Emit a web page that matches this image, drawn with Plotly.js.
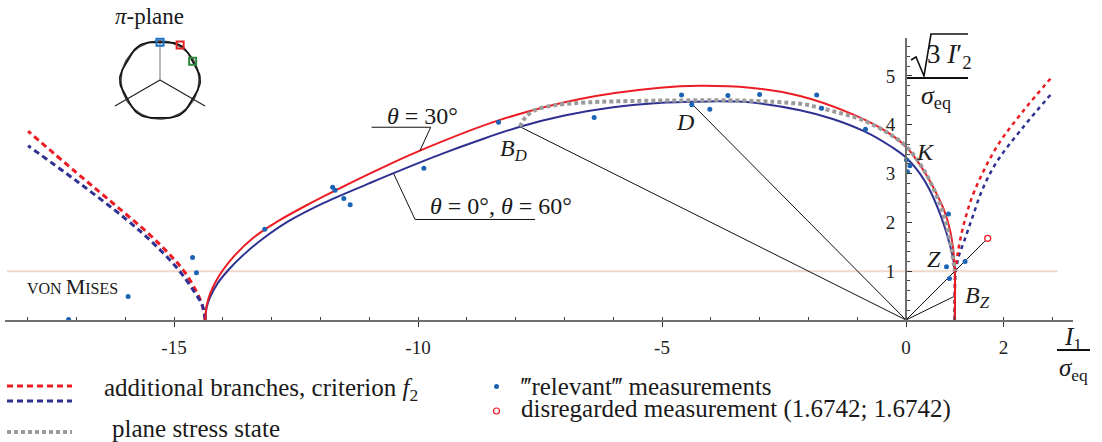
<!DOCTYPE html>
<html>
<head>
<meta charset="utf-8">
<script src="https://cdn.plot.ly/plotly-3.0.1.min.js"></script>
<style>
  html, body { margin: 0; padding: 0; background: #ffffff; }
  #chart { width: 1102px; height: 442px; }
</style>
</head>
<body>
<div id="chart"></div>
<script>
// ---- Meridian section of the yield surface (I1/σeq, sqrt(3 I2')/σeq) ----

// criterion f2, θ = 30°
const theta30X = [-14.36, -14.33, -14.26, -14.16, -14.0, -13.76, -13.38, -12.86, -12.21, -11.6, -10.86, -9.96, -8.32, -6.68, -5.04, -4.22, -3.2, -2.17, -1.15, -0.5, 0.0, 0.35, 0.59, 0.78, 0.9, 0.97, 1.0, 1.0];
const theta30Y = [0.0, 0.3, 0.54, 0.76, 1.02, 1.32, 1.68, 2.03, 2.39, 2.70, 3.06, 3.47, 4.10, 4.53, 4.76, 4.80, 4.76, 4.59, 4.24, 3.92, 3.55, 3.08, 2.66, 2.25, 1.85, 1.42, 1.0, 0.0];

// criterion f2, θ = 0° and θ = 60°
const theta0X = [-14.36, -14.33, -14.26, -14.10, -13.89, -13.56, -13.16, -12.66, -11.95, -11.0, -10.5, -9.5, -8.7, -7.91, -7.0, -6.0, -5.0, -4.43, -4.0, -3.2, -2.17, -1.5, -0.84, -0.3, 0.0, 0.3, 0.49, 0.66, 0.8, 0.92, 0.98, 1.0, 1.0];
const theta0Y = [0.0, 0.26, 0.47, 0.76, 1.02, 1.35, 1.68, 2.02, 2.39, 2.80, 3.01, 3.41, 3.70, 3.96, 4.19, 4.36, 4.45, 4.47, 4.48, 4.46, 4.30, 4.12, 3.86, 3.55, 3.33, 2.98, 2.66, 2.27, 1.88, 1.46, 1.18, 1.0, 0.0];

// additional branches of f2 (compression side)
const branchLeft30X = [-14.36, -14.42, -14.55, -14.78, -15.05, -15.49, -16.2, -17.0, -17.99];
const branchLeft30Y = [0.0, 0.3, 0.6, 0.98, 1.3, 1.74, 2.35, 3.02, 3.87];
const branchLeft0X = [-14.36, -14.42, -14.6, -14.9, -15.39, -16.0, -17.0, -17.99];
const branchLeft0Y = [0.0, 0.3, 0.6, 1.02, 1.54, 2.08, 2.85, 3.57];

// additional branches of f2 (tension side)
const branchRight30X = [1.0, 1.0, 1.01, 1.05, 1.11, 1.22, 1.41, 1.86, 2.4, 3.0];
const branchRight30Y = [0.0, 0.6, 1.0, 1.3, 1.64, 2.1, 2.66, 3.55, 4.28, 4.99];
const branchRight0X = [1.0, 1.0, 1.02, 1.08, 1.2, 1.36, 1.56, 1.86, 2.4, 3.0];
const branchRight0Y = [0.0, 0.6, 1.0, 1.3, 1.64, 2.1, 2.66, 3.24, 3.95, 4.66];

// plane stress state
const planeStressX = [-7.91, -7.8, -7.6, -7.2, -6.5, -5.5, -4.5, -3.5, -2.7, -2.1, -1.5, -0.9, -0.4, 0.0, 0.3, 0.55, 0.75, 0.87, 0.95, 1.0];
const planeStressY = [3.96, 4.15, 4.3, 4.4, 4.46, 4.49, 4.5, 4.5, 4.47, 4.42, 4.28, 4.1, 3.85, 3.56, 3.18, 2.72, 2.22, 1.78, 1.35, 1.0];

// measurements
const measuredX = [-17.16, -15.94, -14.62, -14.54, -13.14, -11.75, -11.7, -11.52, -11.39, -9.88, -8.35, -6.39, -4.6, -4.39, -4.02, -3.65, -3.0, -1.83, -1.73, -0.83, 0.01, 0.08, 0.03, 0.87, 0.83, 0.89, 1.21];
const measuredY = [0.01, 0.48, 1.28, 0.97, 1.86, 2.72, 2.66, 2.49, 2.36, 3.11, 4.05, 4.15, 4.61, 4.41, 4.32, 4.6, 4.62, 4.61, 4.34, 3.91, 3.28, 3.16, 3.04, 2.17, 1.09, 0.85, 1.2];
const disregardedX = [1.6742];
const disregardedY = [1.6742];

// characteristic points reached by load paths from the origin
const pointBD = [-7.91, 3.96];
const pointD = [-4.43, 4.47];
const pointBZ = [0.98, 0.48];

const vonMisesLevel = 1;
const vonMisesExtent = [-18.42, 3.11];

const xTickVals = [-15, -10, -5, 0, 2];
const xTickText = ['-15', '-10', '-5', '0', '2'];
const yTickVals = [1, 2, 3, 4, 5];
const yTickText = ['1', '2', '3', '4', '5'];

// ---- page geometry ----
const W = 1102, H = 442;
const UNIT = 48.8;          // px per unit, equal on both axes
const ORIGIN_PX = 906, ORIGIN_PY = 320;
const X_LEFT_PX = 5, X_RIGHT_PX = 1073;
const Y_TOP = 5.78;

const xRange = [(X_LEFT_PX - ORIGIN_PX) / UNIT, (X_RIGHT_PX - ORIGIN_PX) / UNIT];
const xDomain = [X_LEFT_PX / W, X_RIGHT_PX / W];
const yDomain = [1 - ORIGIN_PY / H, 1 - (ORIGIN_PY - Y_TOP * UNIT) / H];
const yAxisPos = ORIGIN_PX / W;

const px = v => v / W;
const py = v => 1 - v / H;

const RED = '#ec1c24';
const NAVY = '#2e3192';
const DOT = '#1b63b5';
const GRAY = '#9b9b9b';
const AXIS = '#707070';
const FONT = 'Liberation Serif, Times New Roman, serif';

const traces = [];

function curve(x, y, color, width, dash) {
  return {
    x: x, y: y, type: 'scatter', mode: 'lines', cliponaxis: false,
    line: { color: color, width: width, dash: dash || 'solid', shape: 'spline', smoothing: 1 },
    hoverinfo: 'skip', showlegend: false
  };
}
function ray(p) {
  return {
    x: [0, p[0]], y: [0, p[1]], type: 'scatter', mode: 'lines', cliponaxis: false,
    line: { color: '#111', width: 1 }, hoverinfo: 'skip', showlegend: false
  };
}

// load paths
traces.push(ray(pointBD), ray(pointD), ray(pointBZ), ray([disregardedX[0], disregardedY[0]]));

// dashed additional branches
traces.push(curve(branchLeft30X, branchLeft30Y, RED, 3, '6px,4px'));
traces.push(curve(branchLeft0X, branchLeft0Y, NAVY, 3, '6px,4px'));
traces.push(curve(branchRight0X, branchRight0Y, NAVY, 2.5, '4px,4px'));
traces.push(curve(branchRight30X, branchRight30Y, RED, 2.5, '4px,4px'));

// yield curves
traces.push(curve(theta0X, theta0Y, NAVY, 2));
traces.push(curve(theta30X, theta30Y, RED, 2));

// plane stress
traces.push(curve(planeStressX, planeStressY, GRAY, 4, '4px,3px'));

// measurements
traces.push({
  x: measuredX, y: measuredY, type: 'scatter', mode: 'markers', cliponaxis: false,
  marker: { color: DOT, size: 5 }, hoverinfo: 'skip', showlegend: false
});
traces.push({
  x: disregardedX, y: disregardedY, type: 'scatter', mode: 'markers', cliponaxis: false,
  marker: { color: '#ffffff', size: 6, line: { color: RED, width: 1.3 } },
  hoverinfo: 'skip', showlegend: false
});

// ---- π-plane sketch (deviatoric section) ----
const piRadius = 39;        // mean radius of the section, px
const piLobe = 1.3;         // deviation with the Lode angle, px
const piCircle = { x: [], y: [] }, piLobed = { x: [], y: [] };
for (let k = 0; k <= 360; k += 3) {
  const a = k * Math.PI / 180;         // angle measured from the vertical axis
  piCircle.x.push(piRadius * Math.sin(a));
  piCircle.y.push(piRadius * Math.cos(a));
  const r = piRadius + piLobe * Math.cos(6 * (a - Math.PI / 6));
  piLobed.x.push(r * Math.sin(a));
  piLobed.y.push(r * Math.cos(a));
}
function piLine(x, y, color, width) {
  return { x: x, y: y, xaxis: 'x2', yaxis: 'y2', type: 'scatter', mode: 'lines',
           line: { color: color, width: width || 1.2 }, hoverinfo: 'skip', showlegend: false };
}
traces.push(piLine([0, 0], [0, 42], '#8a8a8a'));
traces.push(piLine([0, -45], [0, -26], '#222'));
traces.push(piLine([0, 45], [0, -26], '#222'));
traces.push(piLine(piCircle.x, piCircle.y, '#444', 1.5));
traces.push(piLine(piLobed.x, piLobed.y, '#111', 1.6));
const lodeAngles = [0, 30, 60];
const lodeColors = ['#1a73c8', '#e0262b', '#2e8b3a'];
lodeAngles.forEach((deg, i) => {
  const a = deg * Math.PI / 180;
  const r = piRadius + piLobe * Math.cos(6 * (a - Math.PI / 6));
  traces.push({
    x: [r * Math.sin(a)], y: [r * Math.cos(a)], xaxis: 'x2', yaxis: 'y2',
    type: 'scatter', mode: 'markers', cliponaxis: false,
    marker: { symbol: 'square-open', size: 7, color: lodeColors[i], line: { width: 2, color: lodeColors[i] } },
    hoverinfo: 'skip', showlegend: false
  });
});

// ---- annotations ----
function label(x, y, text, size, extra) {
  return Object.assign({ x: x, y: y, xref: 'x', yref: 'y', text: text, showarrow: false,
    xanchor: 'center', yanchor: 'middle', font: { family: FONT, size: size || 24, color: '#1a1a1a' } }, extra || {});
}
function ptext(x, y, text, size, anchor) {
  return { x: px(x), y: py(y), xref: 'paper', yref: 'paper', text: text, showarrow: false,
    xanchor: anchor || 'center', yanchor: 'middle', font: { family: FONT, size: size || 23, color: '#1a1a1a' } };
}

const annotations = [
  label(0.39, 3.45, '<i>K</i>'),
  label(0.58, 1.24, '<i>Z</i>'),
  label(1.47, 0.48, '<i>B</i><sub><i>Z</i></sub>'),
  label(1.17, -0.68, '<i>A</i><sub><i>Z</i></sub>'),
  label(-13.55, -0.75, '<i>A</i><sub><i>D</i></sub>'),
  label(-8.05, 3.48, '<i>B</i><sub><i>D</i></sub>'),
  label(-4.53, 4.06, '<i>D</i>'),
  label(-9.91, 4.19, '<i>θ</i> = 30°'),
  label(-8.29, 2.34, '<i>θ</i> = 0°, <i>θ</i> = 60°'),
  label(-17.07, 0.68, '<span style="font-size:16px">VON </span>M<span style="font-size:16px">ISES</span>', 22),
  // axis titles
  ptext(950, 56, '3 <i>I</i>′<sub>2</sub>', 27),
  ptext(936, 97, '<i>σ</i><sub>eq</sub>', 26),
  ptext(1073, 338, '<i>I</i><sub>1</sub>', 25),
  ptext(1073, 369, '<i>σ</i><sub>eq</sub>', 25),
  // π-plane caption
  ptext(149, 17, '<i>π</i>-plane', 23),
  // legend texts
  ptext(102, 389, 'additional branches, criterion <i>f</i><sub>2</sub>', 25, 'left'),
  ptext(110, 428, 'plane stress state', 25, 'left'),
  ptext(519, 386, '‴relevant‴ measurements', 25, 'left'),
  ptext(519, 409, 'disregarded measurement (1.6742; 1.6742)', 25, 'left')
];

// ---- shapes: reference line, leaders, title strokes, legend keys ----
function pline(x0, y0, x1, y1, color, width, dash) {
  return { type: 'line', xref: 'paper', yref: 'paper', x0: px(x0), y0: py(y0), x1: px(x1), y1: py(y1),
           line: { color: color, width: width, dash: dash || 'solid' } };
}
function dline(x0, y0, x1, y1) {
  return { type: 'line', xref: 'x', yref: 'y', x0: x0, y0: y0, x1: x1, y1: y1,
           line: { color: '#111', width: 1 } };
}
const radical = 'M ' + [[911, 60], [916, 57], [924, 76], [931, 34], [968, 34]]
  .map(p => px(p[0]) + ',' + py(p[1])).join(' L ');

const shapes = [
  { type: 'line', xref: 'x', yref: 'y', layer: 'below',
    x0: vonMisesExtent[0], x1: vonMisesExtent[1], y0: vonMisesLevel, y1: vonMisesLevel,
    line: { color: '#f1d8cd', width: 2 } },
  // leader for θ = 30°
  dline(-10.95, 3.95, -9.74, 3.95), dline(-9.74, 3.95, -9.96, 3.47),
  // leader for θ = 0°, 60°
  dline(-10.5, 3.0, -10.06, 2.06), dline(-10.06, 2.06, -7.6, 2.06),
  // ordinate title: radical sign and fraction bar
  { type: 'path', xref: 'paper', yref: 'paper', path: radical, line: { color: '#111', width: 1.6 } },
  pline(907, 78, 968, 78, '#111', 2),
  // abscissa title fraction bar
  pline(1057, 350, 1090, 350, '#111', 2),
  // legend keys
  pline(7, 386, 72, 386, RED, 3, '6px,4px'),
  pline(7, 401, 72, 401, NAVY, 3, '6px,4px'),
  pline(7, 432, 72, 432, GRAY, 4, '4px,3px'),
  { type: 'circle', xref: 'paper', yref: 'paper', x0: px(494), x1: px(499), y0: py(384), y1: py(389),
    fillcolor: DOT, line: { color: DOT, width: 0 } },
  { type: 'circle', xref: 'paper', yref: 'paper', x0: px(493.5), x1: px(499.5), y0: py(408), y1: py(414),
    fillcolor: '#ffffff', line: { color: RED, width: 1.2 } }
];

const layout = {
  width: W, height: H,
  margin: { l: 0, r: 0, t: 0, b: 0, pad: 0 },
  paper_bgcolor: '#ffffff', plot_bgcolor: 'rgba(0,0,0,0)',
  showlegend: false,
  xaxis: {
    domain: xDomain, range: xRange, anchor: 'y',
    showgrid: false, zeroline: false,
    showline: true, linecolor: AXIS, linewidth: 2,
    tickmode: 'array', tickvals: xTickVals, ticktext: xTickText,
    ticks: 'outside', ticklen: 5, tickwidth: 1, tickcolor: '#333', ticklabelstandoff: 4,
    minor: { tickmode: 'linear', tick0: 0, dtick: 1, ticks: 'inside', ticklen: 3, tickwidth: 1, tickcolor: '#444', showgrid: false },
    tickfont: { family: FONT, size: 19, color: '#222' }
  },
  yaxis: {
    domain: yDomain, range: [0, Y_TOP], anchor: 'free', position: yAxisPos,
    showgrid: false, zeroline: false,
    showline: true, linecolor: AXIS, linewidth: 2,
    tickmode: 'array', tickvals: yTickVals, ticktext: yTickText,
    ticks: 'inside', ticklen: 5, tickwidth: 1, tickcolor: '#333', ticklabelstandoff: 6,
    minor: { tickmode: 'linear', tick0: 0, dtick: 0.2, ticks: 'inside', ticklen: 3, tickwidth: 1, tickcolor: '#444', showgrid: false },
    tickfont: { family: FONT, size: 19, color: '#222' }
  },
  xaxis2: { domain: [px(100), px(220)], range: [-60, 60], anchor: 'y2', visible: false, fixedrange: true },
  yaxis2: { domain: [py(130), py(30)], range: [-50, 50], anchor: 'x2', visible: false, fixedrange: true },
  annotations: annotations,
  shapes: shapes
};

Plotly.newPlot('chart', traces, layout, { displayModeBar: false, staticPlot: true });
</script>
</body>
</html>
